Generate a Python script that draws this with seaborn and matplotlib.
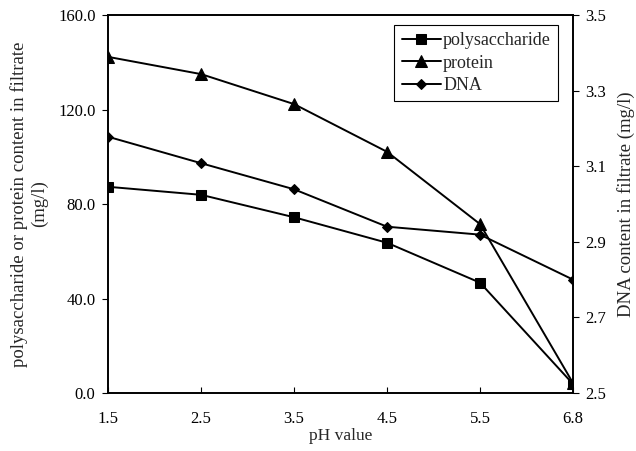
import matplotlib

matplotlib.use("Agg")
import matplotlib.pyplot as plt
import numpy as np
import pandas as pd
import seaborn as sns

# values
ph_labels = ["1.5", "2.5", "3.5", "4.5", "5.5", "6.8"]
polysaccharide = [87.3, 83.9, 74.4, 63.6, 46.7, 3.8]
protein = [142.3, 135.0, 122.3, 102.1, 71.5, 4.2]
dna = [3.178, 3.108, 3.039, 2.940, 2.919, 2.800]

sns.set_theme(style="ticks")
plt.rcParams["font.family"] = ["Liberation Serif", "DejaVu Serif"]

pos = np.arange(len(ph_labels))
df = pd.DataFrame({"pos": pos, "polysaccharide": polysaccharide, "protein": protein, "dna": dna})

fig = plt.figure(figsize=(6.36, 4.51), dpi=100)
ax = fig.add_axes([0.170, 0.1286, 0.731, 0.838])
ax2 = ax.twinx()

line_kw = dict(color="black", linewidth=1.4, markeredgecolor="black", markerfacecolor="black")
sns.lineplot(data=df, x="pos", y="polysaccharide", ax=ax, marker="s", markersize=7,
             label="polysaccharide", legend=False, **line_kw)
sns.lineplot(data=df, x="pos", y="protein", ax=ax, marker="^", markersize=8,
             label="protein", legend=False, **line_kw)
sns.lineplot(data=df, x="pos", y="dna", ax=ax2, marker="D", markersize=5.5,
             label="DNA", legend=False, **line_kw)

ax.set_xlim(0, len(ph_labels) - 1)
ax.set_xticks(pos)
ax.set_xticklabels(ph_labels)
ax.set_ylim(0, 160)
ax.set_yticks(np.arange(0, 161, 40))
ax.set_yticklabels([f"{v:.1f}" for v in np.arange(0, 161, 40)])
ax2.set_ylim(2.5, 3.5)
ax2.set_yticks([2.5, 2.7, 2.9, 3.1, 3.3, 3.5])
ax2.set_yticklabels(["2.5", "2.7", "2.9", "3.1", "3.3", "3.5"])

for a in (ax, ax2):
    for s in a.spines.values():
        s.set_color("black")
        s.set_linewidth(1.2)
    a.tick_params(colors="black", labelsize=12, length=4, width=0.8, direction="out")
ax.tick_params(axis="x", direction="in", pad=13)
ax.tick_params(axis="y", pad=5)
ax2.tick_params(axis="y", pad=5)

ax.set_xlabel("pH value", fontsize=12.5, labelpad=1)
ax.set_ylabel("polysaccharide or protein content in filtrate\n(mg/l)", fontsize=13.5,
              linespacing=1.25, labelpad=7)
ax2.set_ylabel("DNA content in filtrate (mg/l)", fontsize=13.5, labelpad=8)

h1, l1 = ax.get_legend_handles_labels()
h2, l2 = ax2.get_legend_handles_labels()
leg = ax2.legend(h1 + h2, l1 + l2, loc="upper right", bbox_to_anchor=(0.968, 0.974),
                 borderaxespad=0, fancybox=False, framealpha=1, edgecolor="black", fontsize=13,
                 handlelength=2.2, handletextpad=0.1, borderpad=0.4, labelspacing=0.3)
leg.get_frame().set_linewidth(0.8)

fig.savefig("out.png", dpi=100)
